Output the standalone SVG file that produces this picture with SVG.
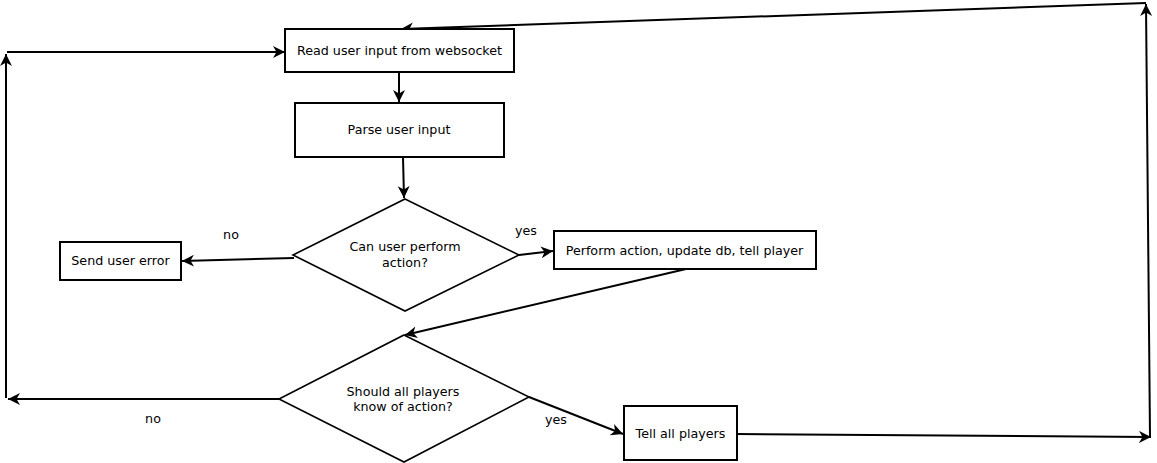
<svg xmlns="http://www.w3.org/2000/svg" width="1157" height="463" viewBox="0 0 1157 463">
<style>
.box{fill:#fff;stroke:#000;stroke-width:2}
.dia{fill:#fff;stroke:#000;stroke-width:1.6}
.t{font-family:"DejaVu Sans",sans-serif;font-size:12.7px;fill:#000;text-anchor:middle}
.c{fill:none;stroke:#000;stroke-width:2;marker-end:url(#ah)}
</style>
<defs>
<marker id="ah" markerUnits="userSpaceOnUse" markerWidth="16" markerHeight="14" refX="12" refY="6" orient="auto">
<path d="M0,0 L12,6 L0,12 L3.5,6 Z" fill="#000"/>
</marker>
</defs>
<rect width="1157" height="463" fill="#fff"/>
<g id="connectors">
<path class="c" d="M399,72 L399,102"/>
<path class="c" d="M403,157 L404,198"/>
<path class="c" d="M294,258 L182,261"/>
<path class="c" d="M519,255 L553,251"/>
<path class="c" d="M686,269 L405,335"/>
<path class="c" d="M279,399 L8,399"/>
<path class="c" d="M6,398 L6,54"/>
<path class="c" d="M7,52 L285,52"/>
<path class="c" d="M529,397 L623,434"/>
<path class="c" d="M737,434 L1151,437"/>
<path class="c" d="M1150,437 L1146,4"/>
<path class="c" d="M1146,3 L401,29"/>
</g>
<g id="read">
<rect class="box" x="285" y="29" width="229" height="43"/>
<text class="t" x="399.5" y="55">Read user input from websocket</text>
</g>
<g id="parse">
<rect class="box" x="295" y="103" width="209" height="54"/>
<text class="t" x="399" y="133.5">Parse user input</text>
</g>
<g id="can">
<polygon class="dia" points="405,199 519,255 405,311 293,255"/>
<text class="t" x="405" y="251">Can user perform</text>
<text class="t" x="405" y="266.5">action?</text>
</g>
<g id="error">
<rect class="box" x="60" y="242" width="121" height="38"/>
<text class="t" x="120.5" y="265">Send user error</text>
</g>
<g id="perform">
<rect class="box" x="554" y="231" width="262" height="38"/>
<text class="t" x="684.5" y="254.5">Perform action, update db, tell player</text>
</g>
<g id="should">
<polygon class="dia" points="404,335 529,397 404,462 279,399"/>
<text class="t" x="403" y="395.5">Should all players</text>
<text class="t" x="403" y="410.5">know of action?</text>
</g>
<g id="tell">
<rect class="box" x="624" y="406" width="113" height="54"/>
<text class="t" x="680.5" y="437.5">Tell all players</text>
</g>
<g id="labels">
<text class="t" x="231" y="239">no</text>
<text class="t" x="526" y="235">yes</text>
<text class="t" x="153" y="423">no</text>
<text class="t" x="556" y="424">yes</text>
</g>
</svg>
